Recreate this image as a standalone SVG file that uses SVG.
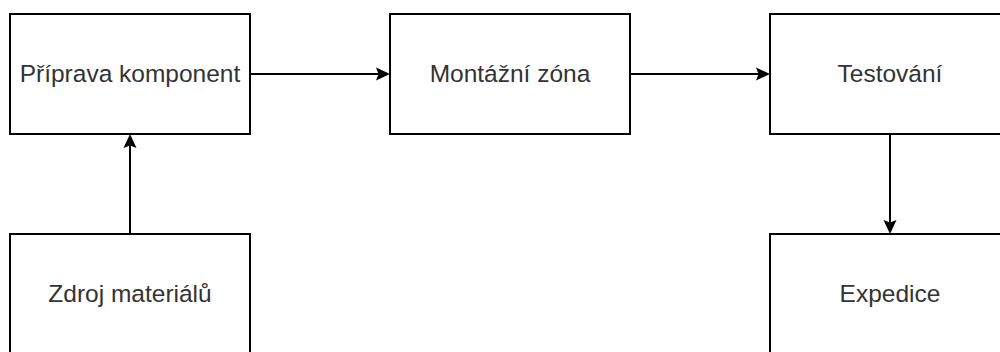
<svg xmlns="http://www.w3.org/2000/svg" width="1000" height="352" viewBox="0 0 1000 352">
<style>
.box{fill:#ffffff;stroke:#000000;stroke-width:2}
.lbl{font-family:"Liberation Sans",Arial,sans-serif;font-size:24.5px;fill:#333333;text-anchor:middle}
.edge{fill:none;stroke:#000000;stroke-width:2}
</style>
<defs>
<marker id="arr" viewBox="0 0 14 14" refX="10" refY="7" markerWidth="14" markerHeight="14" markerUnits="userSpaceOnUse" orient="auto">
<path d="M0,0.5 L14,7 L0,13.5 L2.5,7 Z" fill="#000000"/>
</marker>
</defs>
<rect width="1000" height="352" fill="#ffffff"/>
<g id="edges">
<path class="edge" d="M250,74 L386,74" marker-end="url(#arr)"/>
<path class="edge" d="M630,74 L766,74" marker-end="url(#arr)" stroke="#555555" stroke-width="2.5"/>
<path class="edge" d="M130,234 L130,138" marker-end="url(#arr)"/>
<path class="edge" d="M890,134 L890,230" marker-end="url(#arr)"/>
</g>
<g id="n1"><rect class="box" x="10" y="14" width="240" height="120"/><text class="lbl" x="130" y="82">Příprava komponent</text></g>
<g id="n2"><rect class="box" x="390" y="14" width="240" height="120"/><text class="lbl" x="510" y="82">Montážní zóna</text></g>
<g id="n3"><rect class="box" x="770" y="14" width="240" height="120"/><text class="lbl" x="890" y="82">Testování</text></g>
<g id="n4"><rect class="box" x="10" y="234" width="240" height="120"/><text class="lbl" x="130" y="302">Zdroj materiálů</text></g>
<g id="n5"><rect class="box" x="770" y="234" width="240" height="120"/><text class="lbl" x="890" y="302">Expedice</text></g>
</svg>
